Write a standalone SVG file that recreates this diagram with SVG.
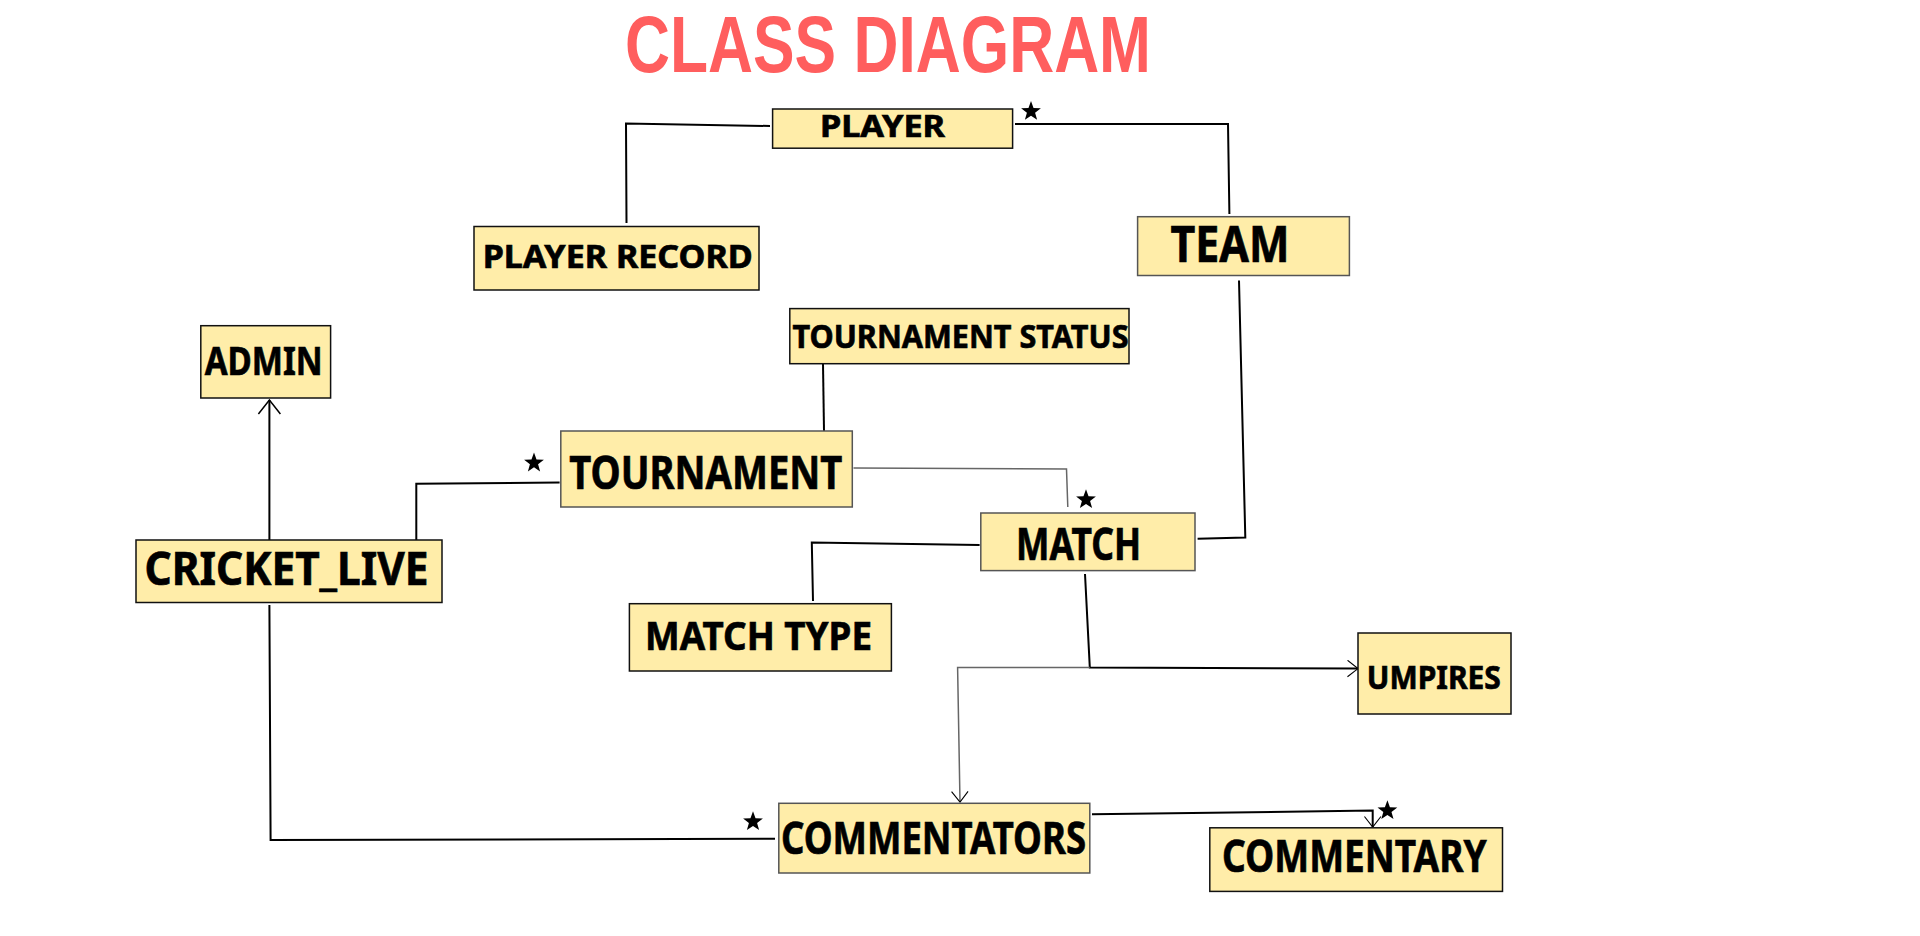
<svg xmlns="http://www.w3.org/2000/svg" width="1920" height="936" viewBox="0 0 1920 936">
<style>
.box{fill:#FFEDA9;stroke:#111;stroke-width:1.5}
.gb{stroke:#555}
.t{font-family:"Noto Sans","Open Sans",sans-serif;font-weight:700;fill:#000;text-anchor:middle;stroke:#000;stroke-width:0.7}
.ti{font-family:"Liberation Sans",Arial,sans-serif;font-weight:700;fill:#FF5E5E;text-anchor:middle}
.ln{fill:none;stroke:#000;stroke-width:2}
.lg{fill:none;stroke:#666;stroke-width:1.5}
</style>
<defs>
<marker id="arr" viewBox="0 0 16 24" refX="15" refY="12" markerWidth="16" markerHeight="24" markerUnits="userSpaceOnUse" orient="auto"><path d="M1,1 L15,12 L1,23" fill="none" stroke="#000" stroke-width="1.5"/></marker>
<marker id="arrs" viewBox="0 0 16 24" refX="15" refY="12" markerWidth="12" markerHeight="18" markerUnits="userSpaceOnUse" orient="auto"><path d="M1,1 L15,12 L1,23" fill="none" stroke="#000" stroke-width="1.5"/></marker>
<path id="star" d="M0,-10.4 L2.52,-3.47 L9.89,-3.21 L4.08,1.33 L6.11,8.41 L0,4.29 L-6.11,8.41 L-4.08,1.33 L-9.89,-3.21 L-2.52,-3.47Z" fill="#000"/>
</defs>
<rect width="1920" height="936" fill="#fff"/>
<text x="888" y="72" class="ti" font-size="80" textLength="526" lengthAdjust="spacingAndGlyphs">CLASS DIAGRAM</text>

<g id="connectors">
<polyline class="ln" points="770,126 626,123.5 626.5,223"/>
<polyline class="ln" points="1015,124 1228,124 1229.4,214"/>
<polyline class="ln" points="823,363.7 824,431"/>
<polyline class="ln" points="269.4,546 269.4,400" marker-end="url(#arr)"/>
<polyline class="ln" points="416.3,540 416.3,483.7 559.6,482.5"/>
<polyline class="lg" points="853.5,468 1066.5,469 1067.8,507"/>
<polyline class="ln" points="1239,280.4 1245.3,537.6 1197.6,538.8"/>
<polyline class="ln" points="979.6,545 811.8,542.5 813,601"/>
<polyline class="ln" points="1085,574 1089.8,667.4 1358,668.6" marker-end="url(#arrs)"/>
<polyline class="lg" points="1089.8,667.4 957.6,667.4 960,802" marker-end="url(#arrs)"/>
<polyline class="ln" points="269.4,605 270.6,840 775,838.8"/>
<polyline class="ln" points="1092,814.3 1372.7,810.6 1372.7,827" marker-end="url(#arrs)"/>
<use href="#star" x="1031" y="111.4"/>
<use href="#star" x="534" y="463"/>
<use href="#star" x="1086" y="499.6"/>
<use href="#star" x="753" y="821.7"/>
<use href="#star" x="1387.4" y="810.6"/>
</g>

<g id="player"><rect class="box" x="772.6" y="109" width="240" height="39.2"/><text class="t" x="882.5" y="137" font-size="30" textLength="125" lengthAdjust="spacingAndGlyphs">PLAYER</text></g>
<g id="player-record"><rect class="box" x="474" y="226.5" width="285" height="63.5"/><text class="t" x="617.7" y="268" font-size="33" textLength="270" lengthAdjust="spacingAndGlyphs">PLAYER RECORD</text></g>
<g id="team"><rect class="box gb" x="1137.6" y="216.7" width="211.8" height="58.8"/><text class="t" x="1230" y="262" font-size="50" textLength="119" lengthAdjust="spacingAndGlyphs">TEAM</text></g>
<g id="tournament-status"><rect class="box" x="789.8" y="308.6" width="339.2" height="55.1"/><text class="t" x="960.5" y="348" font-size="33" textLength="336" lengthAdjust="spacingAndGlyphs">TOURNAMENT STATUS</text></g>
<g id="admin"><rect class="box" x="200.8" y="325.7" width="129.8" height="72.3"/><text class="t" x="263.7" y="374.7" font-size="40" textLength="118" lengthAdjust="spacingAndGlyphs">ADMIN</text></g>
<g id="tournament"><rect class="box gb" x="560.8" y="431" width="291.5" height="76"/><text class="t" x="705.8" y="488.6" font-size="46" textLength="273" lengthAdjust="spacingAndGlyphs">TOURNAMENT</text></g>
<g id="match"><rect class="box gb" x="980.8" y="513" width="214.2" height="57.6"/><text class="t" x="1078.5" y="559.6" font-size="44" textLength="125" lengthAdjust="spacingAndGlyphs">MATCH</text></g>
<g id="cricket-live"><rect class="box" x="136" y="540" width="306" height="62.5"/><text class="t" x="286.5" y="585" font-size="46" textLength="284" lengthAdjust="spacingAndGlyphs">CRICKET_LIVE</text></g>
<g id="match-type"><rect class="box" x="629.4" y="603.7" width="262" height="67.3"/><text class="t" x="758.5" y="650" font-size="40" textLength="227" lengthAdjust="spacingAndGlyphs">MATCH TYPE</text></g>
<g id="umpires"><rect class="box" x="1358" y="633" width="153" height="81"/><text class="t" x="1433.8" y="689.4" font-size="33" textLength="134" lengthAdjust="spacingAndGlyphs">UMPIRES</text></g>
<g id="commentators"><rect class="box gb" x="778.8" y="803.3" width="311" height="69.7"/><text class="t" x="933.5" y="853.5" font-size="45" textLength="305" lengthAdjust="spacingAndGlyphs">COMMENTATORS</text></g>
<g id="commentary"><rect class="box" x="1209.8" y="827.8" width="292.7" height="63.6"/><text class="t" x="1354.3" y="872" font-size="45" textLength="264.6" lengthAdjust="spacingAndGlyphs">COMMENTARY</text></g>
</svg>
